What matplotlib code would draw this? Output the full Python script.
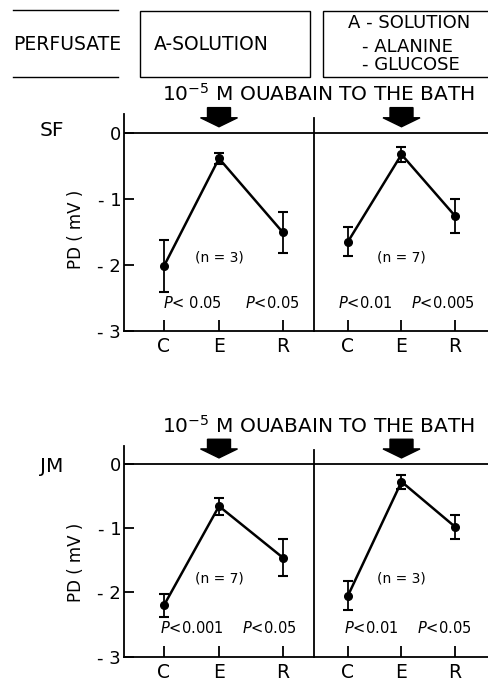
import matplotlib
matplotlib.use("Agg")
import matplotlib.pyplot as plt
from matplotlib.patches import Rectangle, FancyArrow
from matplotlib.lines import Line2D

plt.rcParams['font.family'] = ['DejaVu Sans']
plt.rcParams['axes.unicode_minus'] = False

# data
categories = ['C', 'E', 'R']
subjects = ['SF', 'JM']

sf_a_mean = [-2.02, -0.39, -1.51]
sf_a_err = [0.39, 0.08, 0.31]
sf_b_mean = [-1.65, -0.33, -1.26]
sf_b_err = [0.22, 0.12, 0.26]

jm_a_mean = [-2.20, -0.66, -1.46]
jm_a_err = [0.18, 0.13, 0.29]
jm_b_mean = [-2.05, -0.28, -0.98]
jm_b_err = [0.23, 0.11, 0.19]

n_labels = [['(n = 3)', '(n = 7)'], ['(n = 7)', '(n = 3)']]
p_labels = [[['< 0.05', '<0.05'], ['<0.01', '<0.005']],
            [['<0.001', '<0.05'], ['<0.01', '<0.05']]]

yticks = [0, -1, -2, -3]
ytick_labels = ['0', '- 1', '- 2', '- 3']

# layout
pos_left = [0, 1, 2.16]
pos_right = [0, 1, 2]
p_x = [[[0.52, 1.96], [0.32, 1.77]],
       [[0.51, 1.92], [0.44, 1.79]]]
n_y = [-1.89, -1.79]
p_y = [-2.58, -2.55]

W, H = 489, 682
fig = plt.figure(figsize=(W / 100, H / 100), dpi=100)


def fx(px):
    return px / W


def fy(py):
    return 1 - py / H


# header
for yy in (10, 77):
    fig.add_artist(Line2D([fx(13), fx(118)], [fy(yy), fy(yy)], color='black', lw=1.0))
fig.add_artist(Rectangle((fx(140), fy(77)), fx(170), 66 / H, fill=False, lw=1.0, color='black'))
fig.add_artist(Rectangle((fx(323), fy(77)), fx(180), 66 / H, fill=False, lw=1.0, color='black'))
fig.text(fx(13), fy(45), 'PERFUSATE', fontsize=13.5, ha='left', va='center')
fig.text(fx(154), fy(45), 'A-SOLUTION', fontsize=13.5, ha='left', va='center')
fig.text(fx(348), fy(23.5), 'A - SOLUTION', fontsize=13, ha='left', va='center')
fig.text(fx(362), fy(47.5), '- ALANINE', fontsize=13, ha='left', va='center')
fig.text(fx(362), fy(65.5), '- GLUCOSE', fontsize=13, ha='left', va='center')

rows = [
    (sf_a_mean, sf_a_err, sf_b_mean, sf_b_err),
    (jm_a_mean, jm_a_err, jm_b_mean, jm_b_err),
]
# pixel geometry: (zero line y, -3 line y)
row_px = [(132.7, 330.7), (463.7, 656.7)]
title_y = [94, 425.5]
label_y = [229, 562]
name_y = [131, 467]

for r, (ma, ea, mb, eb) in enumerate(rows):
    y0, y3 = row_px[r]
    ppu = (y3 - y0) / 3
    ytop = 0.4
    bottom = fy(y3)
    height = (3 + ytop) * ppu / H
    axl = fig.add_axes([fx(124), bottom, fx(190), height])
    axr = fig.add_axes([fx(314), bottom, fx(176), height])
    axl.set_xlim(-40 / 55, 150 / 55)
    axr.set_xlim(-34 / 53.5, 142 / 53.5)
    for k, (ax, pos, m, e) in enumerate(((axl, pos_left, ma, ea), (axr, pos_right, mb, eb))):
        ax.set_ylim(-3, ytop)
        ax.patch.set_alpha(0)
        for s in ('top', 'right'):
            ax.spines[s].set_visible(False)
        ax.spines['left'].set_bounds(-3, 0.28 if k == 0 else 0.22)
        ax.spines['left'].set_linewidth(1.3)
        ax.spines['bottom'].set_linewidth(1.3)
        ax.axhline(0, color='black', lw=1.3)
        ax.errorbar(pos, m, yerr=e, color='black', lw=1.8, marker='o', ms=5.5,
                    capsize=3.5, capthick=1.5, elinewidth=1.3)
        ax.set_xticks(pos)
        ax.set_xticklabels(categories, fontsize=13.5)
        ax.tick_params(axis='x', direction='in', length=8, width=1.3, pad=4.5)
        if k == 0:
            ax.set_yticks(yticks)
            ax.set_yticklabels(ytick_labels, fontsize=13)
            ax.tick_params(axis='y', direction='in', length=7, width=1.3, pad=2)
        else:
            ax.set_yticks([])
        # ouabain arrow at E
        ax.add_patch(FancyArrow(pos[1], 0.38, 0, -0.29, width=23 / 55 if k == 0 else 23 / 53.5,
                                head_width=37 / 55 if k == 0 else 37 / 53.5,
                                head_length=9 / ppu, length_includes_head=True,
                                color='black', clip_on=False))
        ax.text(pos[1], n_y[r], n_labels[r][k], fontsize=10, ha='center', va='center')
        for j in range(2):
            ax.text(p_x[r][k][j], p_y[r], r'$\it{P}$' + p_labels[r][k][j], fontsize=10.5,
                    ha='center', va='center')
    fig.text(fx(162), fy(title_y[r]), r'10$^{-5}$ M OUABAIN TO THE BATH', fontsize=14.5,
             ha='left', va='center')
    fig.text(fx(76), fy(label_y[r]), 'PD ( mV )', fontsize=12, rotation=90,
             ha='center', va='center')
    fig.text(fx(40), fy(name_y[r]), subjects[r], fontsize=14.5, ha='left', va='center')

fig.savefig('out.png', dpi=100)
